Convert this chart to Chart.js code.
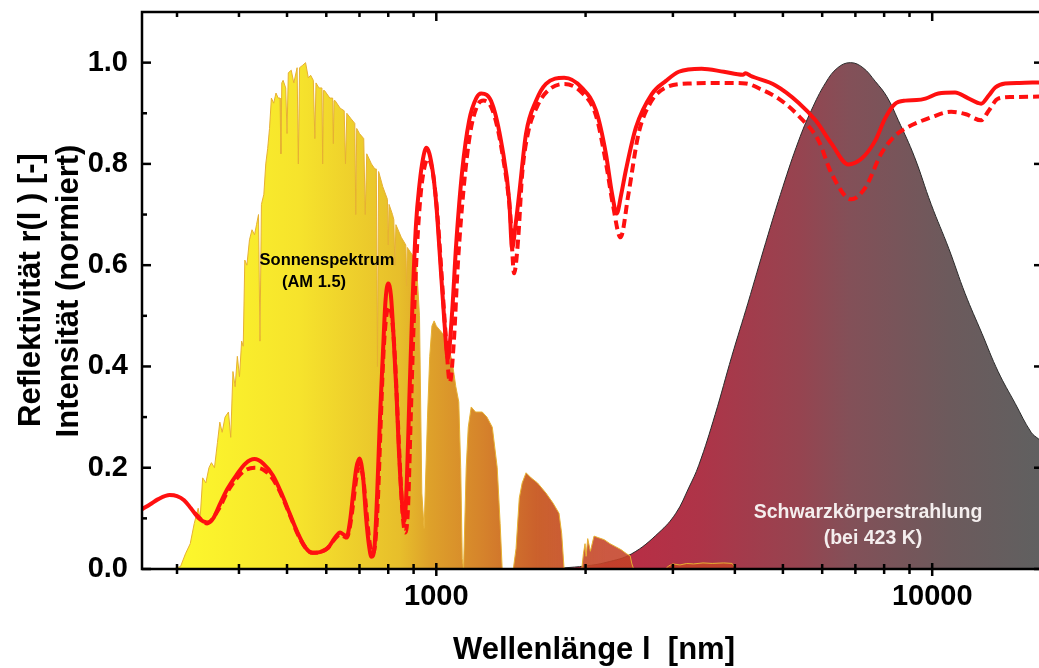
<!DOCTYPE html>
<html>
<head>
<meta charset="utf-8">
<script src="https://cdn.jsdelivr.net/npm/chart.js@4.4.1/dist/chart.umd.min.js"></script>
<style>
  html, body { margin: 0; padding: 0; background: #fff; }
  canvas { display: block; }
</style>
</head>
<body>
<canvas id="spectrum-chart" width="1039" height="668"></canvas>
<script>
// AM 1.5 solar spectrum (normalised), wavelength in nm
const solarNm = [
  280, 295, 305, 312, 319, 325, 331, 334, 338, 343,
  348, 352, 357, 362, 366, 370, 375, 381, 385, 389,
  393, 397, 401, 405, 408, 411, 415, 420, 425, 430,
  434, 438, 441, 444, 449, 453, 457, 461, 465, 470,
  475, 480, 484, 486, 488, 491, 497, 500, 503, 510, 516,
  524, 527, 530, 538, 545, 552, 558, 565, 569, 572, 580, 588, 590, 592, 595,
  610, 618, 620, 622, 625, 640, 652, 656, 660, 672, 685, 688, 691,
  700, 714, 719, 724, 740, 752, 757, 761, 765, 780,
  797, 800, 803, 816, 821, 825, 829, 850, 868, 871, 874, 895, 911, 925,
  935, 945, 960, 970, 980, 990, 1000, 1020, 1040, 1060,
  1080, 1095, 1110, 1120, 1128, 1135, 1149, 1160, 1176, 1200,
  1238, 1265, 1297, 1327, 1345, 1358, 1430, 1448, 1470, 1490,
  1517, 1553, 1600, 1664, 1720, 1768, 1790, 1810, 1965, 1980,
  1995, 2005, 2020, 2045, 2080, 2120, 2180, 2240, 2300, 2360,
  2420, 2460, 2480, 2500, 2900, 2940, 3000, 3100, 3200, 3300,
  3450, 3600, 3800, 3950, 4020
];
const solarValues = [
  0, 0, 0.005, 0.03, 0.05, 0.09, 0.12, 0.1, 0.18, 0.17,
  0.2, 0.21, 0.2, 0.25, 0.29, 0.27, 0.3, 0.31, 0.26, 0.39,
  0.36, 0.42, 0.38, 0.45, 0.44, 0.61, 0.6, 0.65, 0.67, 0.66,
  0.68, 0.7, 0.45, 0.72, 0.74, 0.8, 0.83, 0.87, 0.93, 0.92,
  0.94, 0.93, 0.93, 0.82, 0.96, 0.965, 0.95, 0.86, 0.98, 0.985, 0.96,
  0.99, 0.8, 0.99, 0.995, 1.0, 0.97, 0.975, 0.965, 0.85, 0.96, 0.95, 0.95, 0.8, 0.945, 0.945,
  0.93, 0.93, 0.84, 0.925, 0.925, 0.91, 0.905, 0.8, 0.9, 0.89, 0.88, 0.7, 0.87,
  0.86, 0.85, 0.7, 0.82, 0.8, 0.79, 0.79, 0.4, 0.785, 0.755,
  0.73, 0.64, 0.72, 0.7, 0.69, 0.6, 0.68, 0.655, 0.64, 0.56, 0.635, 0.62, 0.61, 0.5,
  0.15, 0.08, 0.3, 0.42, 0.48, 0.49, 0.48, 0.47, 0.46, 0.44,
  0.4, 0.36, 0.33, 0.2, 0.02, 0, 0.2, 0.28, 0.32, 0.31,
  0.31, 0.3, 0.28, 0.2, 0.09, 0, 0, 0.04, 0.14, 0.17,
  0.19, 0.18, 0.17, 0.15, 0.13, 0.11, 0.07, 0, 0, 0.03,
  0.05, 0.025, 0.06, 0.035, 0.065, 0.062, 0.058, 0.05, 0.044, 0.038,
  0.03, 0.026, 0.01, 0, 0, 0.006, 0.01, 0.008, 0.011, 0.01,
  0.012, 0.011, 0.012, 0.011, 0
];

// black body radiation at 423 K (normalised)
const bodyNm = [
  1800, 2000, 2200, 2477, 2812, 3041, 3228, 3383, 3650, 3943,
  4250, 4617, 5000, 5375, 5700, 6095, 6450, 6842, 7250, 7677,
  8100, 8545, 9200, 9954, 10800, 11650, 12600, 13580, 14700, 15830,
  16420
];
const bodyValues = [
  0.002, 0.006, 0.013, 0.03, 0.072, 0.11, 0.16, 0.205, 0.305, 0.42,
  0.525, 0.645, 0.755, 0.845, 0.905, 0.96, 0.99, 1.0, 0.99, 0.963,
  0.933, 0.886, 0.815, 0.72, 0.633, 0.544, 0.465, 0.39, 0.327, 0.27,
  0.256
];

// reflectivity, solid curve
const reflNm = [
  255, 265, 275, 290, 300, 310, 320, 332, 345, 355,
  365, 378, 395, 412, 430, 448, 468, 488, 506, 525,
  545, 563, 585, 605, 625, 640, 650, 660, 670, 680,
  690, 700, 712, 722, 732, 740, 750, 760, 770, 780,
  790, 800, 810, 820, 831, 840, 850, 862, 872, 882,
  895, 910, 925, 940, 955, 982, 1000, 1014, 1038, 1055,
  1075, 1097, 1128, 1165, 1204, 1232, 1296, 1358, 1403, 1422,
  1445, 1470, 1517, 1590, 1664, 1811, 1967, 2100, 2198, 2261,
  2311, 2360, 2411, 2527, 2720, 2905, 3083, 3427, 3800, 4150,
  4205, 4300, 4833, 5375, 5818, 6266, 6776, 7196, 7677, 8035,
  8400, 8826, 9300, 9690, 10290, 11120, 11800, 12550, 13000, 13400,
  14030, 15000, 16420
];
const reflValues = [
  0.118, 0.128, 0.138, 0.146, 0.144, 0.136, 0.12, 0.1, 0.092, 0.1,
  0.125, 0.156, 0.185, 0.208, 0.217, 0.208, 0.185, 0.148, 0.11, 0.072,
  0.042, 0.032, 0.034, 0.042, 0.062, 0.072, 0.068, 0.064, 0.095, 0.15,
  0.2, 0.218, 0.18, 0.1, 0.045, 0.024, 0.04, 0.15, 0.3, 0.42,
  0.53, 0.564, 0.54, 0.46, 0.35, 0.24, 0.15, 0.095, 0.17, 0.33,
  0.52, 0.68, 0.76, 0.81, 0.832, 0.79, 0.72, 0.636, 0.49, 0.416,
  0.5, 0.643, 0.787, 0.886, 0.93, 0.939, 0.919, 0.832, 0.728, 0.633,
  0.68, 0.742, 0.86, 0.925, 0.958, 0.97, 0.95, 0.905, 0.82, 0.742,
  0.702, 0.74, 0.787, 0.872, 0.938, 0.964, 0.982, 0.988, 0.982, 0.976,
  0.979, 0.974, 0.955, 0.921, 0.886, 0.84, 0.799, 0.81, 0.846, 0.89,
  0.918, 0.925, 0.926, 0.929, 0.939, 0.941, 0.93, 0.919, 0.935, 0.951,
  0.959, 0.96, 0.961
];

// reflectivity, dashed curve
const dashNm = [
  326, 345, 365, 378, 395, 412, 430, 448, 468, 488,
  506, 525, 545, 563, 585, 605, 625, 640, 650, 660,
  670, 680, 690, 700, 712, 722, 732, 742, 752, 762,
  772, 782, 793, 805, 815, 825, 835, 845, 855, 866,
  877, 887, 900, 915, 930, 945, 962, 985, 1005, 1022,
  1045, 1065, 1085, 1105, 1135, 1170, 1210, 1245, 1300, 1362,
  1410, 1435, 1462, 1490, 1530, 1600, 1680, 1811, 1970, 2100,
  2200, 2270, 2352, 2440, 2558, 2700, 2905, 3275, 3800, 4205,
  4500, 4900, 5375, 5900, 6266, 6870, 7330, 7890, 8400, 8826,
  9954, 10920, 11700, 12550, 13000, 13580, 14500, 16420
];
const dashValues = [
  0.11, 0.09, 0.12, 0.15, 0.178, 0.195, 0.2, 0.196, 0.178, 0.145,
  0.108, 0.07, 0.042, 0.032, 0.034, 0.042, 0.06, 0.068, 0.065, 0.062,
  0.085, 0.13, 0.18, 0.205, 0.18, 0.12, 0.06, 0.03, 0.045, 0.13,
  0.28, 0.42, 0.5, 0.518, 0.49, 0.42, 0.31, 0.2, 0.11, 0.072,
  0.12, 0.28, 0.48, 0.64, 0.74, 0.79, 0.81, 0.78, 0.7, 0.6,
  0.46, 0.369, 0.45, 0.6, 0.75, 0.86, 0.915, 0.925, 0.905, 0.815,
  0.7, 0.584, 0.65, 0.78, 0.86, 0.915, 0.945, 0.958, 0.94, 0.895,
  0.8, 0.72, 0.655, 0.74, 0.86, 0.92, 0.951, 0.959, 0.96, 0.959,
  0.948, 0.929, 0.895, 0.846, 0.781, 0.73, 0.753, 0.82, 0.855, 0.87,
  0.892, 0.903, 0.898, 0.886, 0.905, 0.929, 0.932, 0.933
];

const xTickLabels = [1000, 10000];
const xMinorTicks = [300, 400, 500, 600, 700, 800, 900, 2000, 3000, 4000, 5000, 6000, 7000, 8000, 9000];
const yTickLabels = [0, 0.2, 0.4, 0.6, 0.8, 1.0];
const yMinorTicks = [0.1, 0.3, 0.5, 0.7, 0.9];

const FONT = "'Liberation Sans', Arial, sans-serif";

function toPoints(xs, ys) {
  return xs.map((x, i) => ({ x: x, y: ys[i] }));
}

// horizontal gradient, stops given as [wavelength, colour]
function wavelengthGradient(stops) {
  return function (context) {
    const chart = context.chart;
    const area = chart.chartArea;
    if (!area) return null;
    const xScale = chart.scales.x;
    const g = chart.ctx.createLinearGradient(area.left, 0, area.right, 0);
    stops.forEach(function (s) {
      let p = (xScale.getPixelForValue(s[0]) - area.left) / (area.right - area.left);
      g.addColorStop(Math.min(1, Math.max(0, p)), s[1]);
    });
    return g;
  };
}

const decorPlugin = {
  id: "decor",
  afterDatasetsDraw(chart) {
    const { ctx, chartArea: a, scales } = chart;
    const xs = scales.x, ys = scales.y;
    function seg(x1, y1, x2, y2) {
      ctx.beginPath();
      ctx.moveTo(x1, y1);
      ctx.lineTo(x2, y2);
      ctx.stroke();
    }
    ctx.save();
    ctx.strokeStyle = "#000";
    ctx.lineWidth = 2.5;
    ctx.beginPath();
    ctx.moveTo(a.right + 3, a.top);
    ctx.lineTo(a.left, a.top);
    ctx.lineTo(a.left, a.bottom);
    ctx.lineTo(a.right + 3, a.bottom);
    ctx.stroke();

    xTickLabels.forEach(function (v) {
      const px = xs.getPixelForValue(v);
      seg(px, a.bottom - 6, px, a.bottom + 7);
      seg(px, a.top, px, a.top + 9);
    });
    xMinorTicks.forEach(function (v) {
      const px = xs.getPixelForValue(v);
      seg(px, a.bottom - 5, px, a.bottom + 5);
      seg(px, a.top, px, a.top + 5);
    });
    yTickLabels.forEach(function (v) {
      const py = ys.getPixelForValue(v);
      seg(a.left, py, a.left + 9, py);
      seg(a.right, py, a.right - 5, py);
    });
    yMinorTicks.forEach(function (v) {
      const py = ys.getPixelForValue(v);
      seg(a.left, py, a.left + 5, py);
    });

    // annotations
    ctx.textAlign = "center";
    ctx.textBaseline = "middle";
    ctx.fillStyle = "#000";
    ctx.font = "bold 16.5px " + FONT;
    ctx.fillText("Sonnenspektrum", 327, 260);
    ctx.fillText("(AM 1.5)", 314, 282);
    ctx.fillStyle = "#f4eeee";
    ctx.font = "bold 19.5px " + FONT;
    ctx.fillText("Schwarzkörperstrahlung", 868, 513);
    ctx.fillText("(bei 423 K)", 873, 539);

    // axis titles
    ctx.fillStyle = "#000";
    ctx.font = "bold 31px " + FONT;
    ctx.fillText("Wellenlänge l  [nm]", 594, 650);
    ctx.save();
    ctx.translate(31, 290);
    ctx.rotate(-Math.PI / 2);
    ctx.fillText("Reflektivität r(l ) [-]", 0, 0);
    ctx.restore();
    ctx.save();
    ctx.translate(69, 291);
    ctx.rotate(-Math.PI / 2);
    ctx.fillText("Intensität (normiert)", 0, 0);
    ctx.restore();
    ctx.restore();
  }
};

new Chart(document.getElementById("spectrum-chart").getContext("2d"), {
  type: "line",
  data: {
    datasets: [
      {
        label: "Reflektivität",
        data: toPoints(reflNm, reflValues),
        borderColor: "#ff1010",
        borderWidth: 4,
        pointRadius: 0,
        fill: false,
        cubicInterpolationMode: "monotone",
        order: 0
      },
      {
        label: "Reflektivität (gestrichelt)",
        data: toPoints(dashNm, dashValues),
        borderColor: "#ff1010",
        borderWidth: 4,
        borderDash: [9, 5],
        pointRadius: 0,
        fill: false,
        cubicInterpolationMode: "monotone",
        order: 1
      },
      {
        label: "Sonnenspektrum (AM 1.5)",
        data: toPoints(solarNm, solarValues),
        borderColor: "#e6b032",
        borderWidth: 1,
        pointRadius: 0,
        tension: 0,
        fill: "origin",
        backgroundColor: wavelengthGradient([
          [300, "#fdf82c"], [530, "#f6e32c"], [845, "#e7be2b"], [970, "#dea12a"],
          [1220, "#d6852b"], [1590, "#cb612c"], [2200, "rgba(196,66,40,0.88)"]
        ]),
        order: 2
      },
      {
        label: "Schwarzkörperstrahlung (bei 423 K)",
        data: toPoints(bodyNm, bodyValues),
        borderColor: "#2a2a2a",
        borderWidth: 1,
        pointRadius: 0,
        tension: 0.4,
        fill: "origin",
        backgroundColor: wavelengthGradient([
          [2200, "#bb2c44"], [3400, "#ae3448"], [5400, "#964450"], [6800, "#835058"],
          [10800, "#6c5a5c"], [16420, "#606060"]
        ]),
        order: 3
      }
    ]
  },
  options: {
    responsive: false,
    animation: false,
    layout: { padding: { left: 0, right: 0, top: 12, bottom: 0 } },
    plugins: { legend: { display: false }, tooltip: { enabled: false } },
    scales: {
      x: {
        type: "logarithmic",
        min: 255,
        max: 16420,
        grid: { display: false },
        border: { display: false },
        afterBuildTicks: function (scale) {
          scale.ticks = xTickLabels.map(function (v) { return { value: v }; });
        },
        afterFit: function (scale) {
          scale.height = 99;
          scale.paddingLeft = 0;
          scale.paddingRight = 0;
        },
        ticks: {
          autoSkip: false,
          maxRotation: 0,
          padding: 3,
          color: "#000",
          font: { family: FONT, weight: "bold", size: 29 },
          callback: function (v) { return String(v); }
        }
      },
      y: {
        min: 0,
        max: 1.1,
        grid: { display: false },
        border: { display: false },
        afterBuildTicks: function (scale) {
          scale.ticks = yTickLabels.map(function (v) { return { value: v }; });
        },
        afterFit: function (scale) {
          scale.width = 142;
          scale.paddingTop = 0;
          scale.paddingBottom = 0;
        },
        ticks: {
          padding: 6,
          color: "#000",
          font: { family: FONT, weight: "bold", size: 29 },
          callback: function (v) { return Number(v).toFixed(1); }
        }
      }
    }
  },
  plugins: [decorPlugin]
});
</script>
</body>
</html>
